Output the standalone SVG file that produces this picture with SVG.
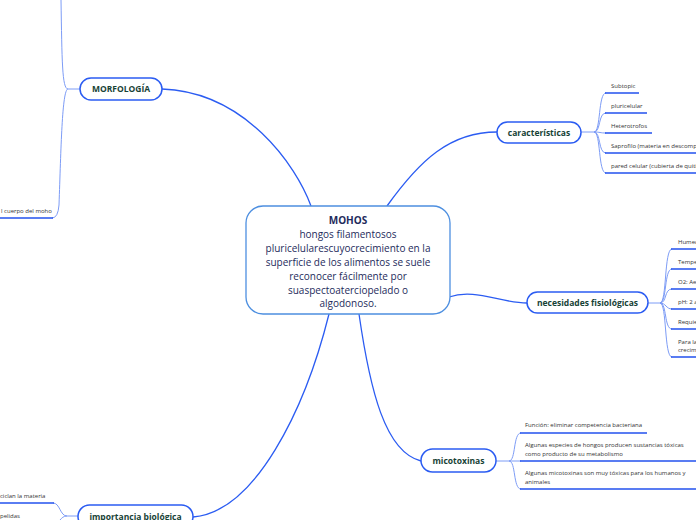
<svg xmlns="http://www.w3.org/2000/svg" width="696" height="520" viewBox="0 0 696 520">
<defs>
<style>
.main{fill:none;stroke:#2b5cf2;stroke-width:1.3}
.br{fill:none;stroke:#7d9cf6;stroke-width:1}
.ul{fill:none;stroke:#2352ee;stroke-width:1.6}
.node{fill:#fff;stroke:#2b5cf2;stroke-width:1.5}
.lbl{font-family:"Open Sans","Noto Sans","Liberation Sans",sans-serif;font-weight:bold;font-size:8.5px;fill:#174236;text-anchor:middle}
.sub{font-family:"Open Sans","Noto Sans","Liberation Sans",sans-serif;font-size:6px;fill:#333}
.ctr{font-family:"Open Sans","Noto Sans","Liberation Sans",sans-serif;font-size:10px;fill:#1e2b5c;text-anchor:middle}
</style>
</defs>
<rect width="696" height="520" fill="#fff"/>
<g id="connectors">
<path class="main" d="M311,206 C296,165 245,92 162,89"/>
<path class="main" d="M387,206 C420,160 450,132 497,132"/>
<path class="main" d="M449,297 C475,288 500,303 527,303"/>
<path class="main" d="M359,314 C370,390 385,452 421,461"/>
<path class="main" d="M329,314 C305,410 255,512 193,517"/>
<path class="br" d="M80,89 L68,89 C62,89 62,60 61,0"/>
<path class="br" d="M68,89 C62,89 61,150 59,205 Q58,218 52,218"/>
<path class="ul" d="M53,218 L0,218"/>
<path class="br" d="M78,516 L67,516 C60,516 60,503 53,503"/>
<path class="ul" d="M54,503 L0,503"/>
<path class="br" d="M67,516 C60,516 60,524 53,524"/>
<path class="br" d="M581,132 L594,132"/>
<path class="br" d="M594,132 C601,132 598,93 606,93"/>
<path class="br" d="M594,132 C601,132 598,113 606,113"/>
<path class="br" d="M594,132 C600,132 600,133 606,133"/>
<path class="br" d="M594,132 C601,132 598,153 606,153"/>
<path class="br" d="M594,132 C601,132 598,173 606,173"/>
<path class="ul" d="M605,93 L639,93 M605,113 L647,113 M605,133 L652,133 M605,153 L696,153 M605,173 L696,173"/>
<path class="br" d="M648,303 L660,303"/>
<path class="br" d="M660,303 C667,303 664,249 672,249"/>
<path class="br" d="M660,303 C667,303 664,269 672,269"/>
<path class="br" d="M660,303 C667,303 664,289 672,289"/>
<path class="br" d="M660,303 C666,303 666,309 672,309"/>
<path class="br" d="M660,303 C667,303 664,329 672,329"/>
<path class="br" d="M660,303 C667,303 664,357 672,357"/>
<path class="ul" d="M671,249 L696,249 M671,269 L696,269 M671,289 L696,289 M671,309 L696,309 M671,329 L696,329 M671,357 L696,357"/>
<path class="br" d="M496,461 L509,461"/>
<path class="br" d="M509,461 C516,461 513,433 521,433"/>
<path class="br" d="M509,461 L521,461"/>
<path class="br" d="M509,461 C516,461 513,489 521,489"/>
<path class="ul" d="M520,433 L647,433 M520,461 L696,461 M520,489 L696,489"/>
</g>
<g id="central">
<rect x="246" y="206" width="204" height="108" rx="17" fill="#fff" stroke="#4d8fe0" stroke-width="1.3"/>
<text class="ctr" x="348" y="224" font-weight="bold" font-size="11">MOHOS</text>
<text class="ctr" x="348" y="238">hongos filamentosos</text>
<text class="ctr" x="348" y="252">pluricelularescuyocrecimiento en la</text>
<text class="ctr" x="348" y="266">superficie de los alimentos se suele</text>
<text class="ctr" x="348" y="280">reconocer fácilmente por</text>
<text class="ctr" x="348" y="294">suaspectoaterciopelado o</text>
<text class="ctr" x="348" y="307">algodonoso.</text>
</g>
<g id="morfologia">
<rect class="node" x="80" y="78" width="82" height="22" rx="11"/>
<text class="lbl" x="121" y="92">MORFOLOGÍA</text>
<text class="sub" x="1" y="213">l cuerpo del moho</text>
</g>
<g id="caracteristicas">
<rect class="node" x="497" y="122" width="84" height="21" rx="10.5"/>
<text class="lbl" x="539" y="135.5">características</text>
<text class="sub" x="611" y="88">Subtopic</text>
<text class="sub" x="611" y="108">pluricelular</text>
<text class="sub" x="611" y="128">Heterotrofos</text>
<text class="sub" x="611" y="148">Saprofilo (materia en descomposición)</text>
<text class="sub" x="611" y="168">pared celular (cubierta de quitina)</text>
</g>
<g id="necesidades">
<rect class="node" x="527" y="292" width="121" height="21" rx="10.5"/>
<text class="lbl" x="587.5" y="305.5">necesidades fisiológicas</text>
<text class="sub" x="678" y="244">Humedad</text>
<text class="sub" x="678" y="264">Temperatura</text>
<text class="sub" x="678" y="284">O2: Aerobios</text>
<text class="sub" x="678" y="304">pH: 2 a 8</text>
<text class="sub" x="678" y="324">Requieren</text>
<text class="sub" x="678" y="344">Para la</text>
<text class="sub" x="678" y="352">crecimiento</text>
</g>
<g id="micotoxinas">
<rect class="node" x="421" y="449" width="75" height="23" rx="11.5"/>
<text class="lbl" x="458.5" y="464">micotoxinas</text>
<text class="sub" x="525" y="427">Función: eliminar competencia bacteriana</text>
<text class="sub" x="525" y="447">Algunas especies de hongos producen sustancias tóxicas</text>
<text class="sub" x="525" y="456">como producto de su metabolismo</text>
<text class="sub" x="525" y="475">Algunas micotoxinas son muy tóxicas para los humanos y</text>
<text class="sub" x="525" y="484">animales</text>
</g>
<g id="importancia">
<rect class="node" x="78" y="505" width="115" height="23" rx="11.5"/>
<text class="lbl" x="135.5" y="520">importancia biológica</text>
<text class="sub" x="0" y="498">ciclan la materia</text>
<text class="sub" x="0" y="518">pelidas</text>
</g>
</svg>
